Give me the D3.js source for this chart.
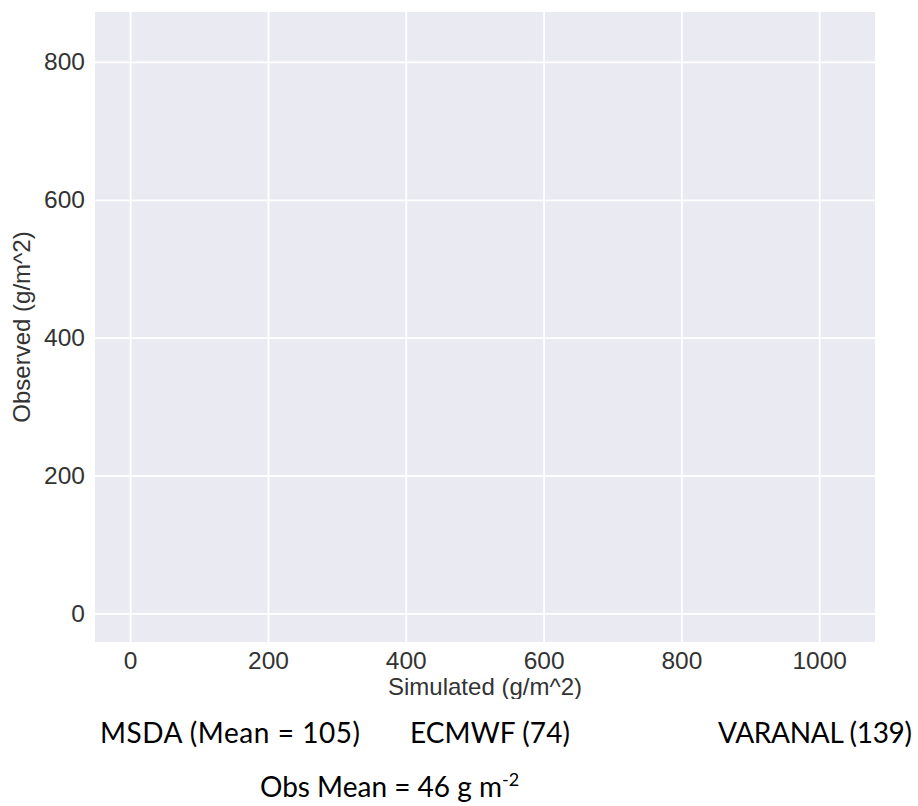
<!DOCTYPE html>
<html>
<head>
<meta charset="utf-8">
<script src="https://cdn.jsdelivr.net/npm/d3@7"></script>
<style>
  body { margin: 0; background: #fff; }
  .tick text { font-family: "Liberation Sans", Arial, sans-serif; fill: #333; }
  .axis-label { font-family: "Liberation Sans", Arial, sans-serif; fill: #333; }
  .note { font-family: Lato, "Open Sans", sans-serif; fill: #000; }
</style>
</head>
<body>
<div id="chart"></div>
<script>
var width = 918
var height = 806

// axis ranges and ticks
const xDomain = [-51, 1081];
const yDomain = [-41.6, 872.5];
const xTicks = [0, 200, 400, 600, 800, 1000];
const yTicks = [0, 200, 400, 600, 800];
const xAxisLabel = "Simulated (g/m^2)";
const yAxisLabel = "Observed (g/m^2)";

// annotation text under the chart
const modelNames = ["MSDA (Mean = 105)", "ECMWF (74)", "VARANAL (139)"];
const obsText = "Obs Mean = 46 g m";
const obsUnitSup = "-2";

var svg = d3.select("#chart").append("svg")
    .attr("width", width)
    .attr("height", height)

const margin = {top: 12, right: 43, bottom: 164, left: 95}
const innerWidth = width - margin.left - margin.right;
const innerHeight = height - margin.top - margin.bottom;

const xScale = d3.scaleLinear().domain(xDomain).range([0, innerWidth]);
const yScale = d3.scaleLinear().domain(yDomain).range([innerHeight, 0]);

const g = svg.append("g")
    .attr("transform", `translate(${margin.left}, ${margin.top})`)

g.append("rect")
    .attr("width", innerWidth)
    .attr("height", innerHeight)
    .attr("fill", "#EAEAF2")

const xAxis = d3.axisBottom(xScale)
    .tickValues(xTicks)
    .tickSize(-innerHeight)
    .tickPadding(10)
    .tickFormat(d3.format("d"));

const yAxis = d3.axisLeft(yScale)
    .tickValues(yTicks)
    .tickSize(-innerWidth)
    .tickPadding(10)
    .tickFormat(d3.format("d"));

const xAxisG = g.append("g")
    .attr("transform", `translate(0, ${innerHeight})`)
    .call(xAxis);
const yAxisG = g.append("g").call(yAxis);

[xAxisG, yAxisG].forEach(a => {
    a.select(".domain").remove();
    a.selectAll(".tick line").attr("stroke", "#fff").attr("stroke-width", 1.8);
    a.selectAll(".tick text").style("font-size", "24.5px");
});
xAxisG.selectAll(".tick text").attr("dy", "0.71em");

// the x label is cut off at the bottom in the original
svg.append("clipPath").attr("id", "labelClip")
    .append("rect").attr("x", 0).attr("y", 0).attr("width", width).attr("height", 699);

svg.append("text")
    .attr("class", "axis-label")
    .attr("clip-path", "url(#labelClip)")
    .attr("x", 485)
    .attr("y", 695)
    .attr("text-anchor", "middle")
    .style("font-size", "24px")
    .text(xAxisLabel);

svg.append("text")
    .attr("class", "axis-label")
    .attr("transform", `translate(30, ${margin.top + innerHeight / 2}) rotate(-90)`)
    .attr("text-anchor", "middle")
    .style("font-size", "24px")
    .text(yAxisLabel);

const noteX = [100, 410, 718];
const noteW = [260, 160, 194];
svg.selectAll(".model-note")
    .data(modelNames)
    .enter().append("text")
    .attr("class", "note model-note")
    .attr("x", (d, i) => noteX[i])
    .attr("y", 743)
    .attr("textLength", (d, i) => noteW[i])
    .style("font-size", "28px")
    .text(d => d);

const obs = svg.append("text")
    .attr("class", "note")
    .attr("x", 260)
    .attr("y", 797)
    .style("font-size", "28px")
    .text(obsText);
obs.append("tspan")
    .attr("dy", -11)
    .style("font-size", "18px")
    .text(obsUnitSup);
</script>
</body>
</html>
